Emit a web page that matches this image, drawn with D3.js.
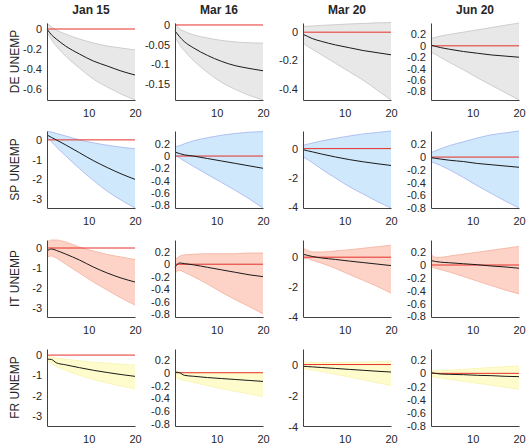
<!DOCTYPE html>
<html>
<head>
<meta charset="utf-8">
<script src="https://cdn.jsdelivr.net/npm/d3@7"></script>
<style>
  body { margin: 0; background: #fff; }
  text { font-family: "Liberation Sans", Arial, sans-serif; fill: #262626; }
</style>
</head>
<body>
<div id="chart"></div>
<script>
var horizons = [1, 2, 3, 5, 8, 11, 14, 17, 20];
var columns = ["Jan 15", "Mar 16", "Mar 20", "Jun 20"];
var rowNames = ["DE UNEMP", "SP UNEMP", "IT UNEMP", "FR UNEMP"];

// one sub-array per column (Jan 15, Mar 16, Mar 20, Jun 20)
var deMedian = [
  [0, -0.06, -0.1, -0.17, -0.25, -0.32, -0.37, -0.42, -0.46],
  [-0.015, -0.03, -0.042, -0.058, -0.077, -0.092, -0.103, -0.11, -0.116],
  [-0.015, -0.03, -0.045, -0.065, -0.09, -0.11, -0.13, -0.145, -0.16],
  [0.01, -0.01, -0.03, -0.06, -0.1, -0.13, -0.16, -0.18, -0.2]
];
var deUpper = [
  [0.06, 0.02, -0.01, -0.05, -0.1, -0.14, -0.17, -0.19, -0.21],
  [0.005, -0.01, -0.016, -0.025, -0.033, -0.039, -0.043, -0.045, -0.046],
  [0.04, 0.042, 0.044, 0.048, 0.053, 0.058, 0.062, 0.066, 0.068],
  [0.13, 0.15, 0.17, 0.2, 0.24, 0.28, 0.32, 0.36, 0.4]
];
var deLower = [
  [-0.03, -0.11, -0.17, -0.27, -0.39, -0.5, -0.58, -0.65, -0.71],
  [-0.03, -0.05, -0.065, -0.09, -0.12, -0.145, -0.163, -0.178, -0.19],
  [-0.077, -0.1, -0.12, -0.16, -0.22, -0.28, -0.34, -0.41, -0.48],
  [-0.11, -0.15, -0.2, -0.29, -0.42, -0.56, -0.69, -0.82, -0.95]
];

var spMedian = [
  [0.25, 0.12, 0, -0.25, -0.65, -1.05, -1.4, -1.72, -2.0],
  [0.065, 0.04, 0.02, 0, -0.04, -0.08, -0.12, -0.16, -0.2],
  [-0.07, -0.15, -0.22, -0.37, -0.57, -0.75, -0.9, -1.03, -1.15],
  [-0.01, -0.02, -0.03, -0.05, -0.07, -0.1, -0.12, -0.14, -0.16]
];
var spUpper = [
  [0.42, 0.4, 0.33, 0.2, 0.0, -0.15, -0.27, -0.37, -0.45],
  [0.15, 0.17, 0.2, 0.25, 0.3, 0.34, 0.37, 0.39, 0.4],
  [0.22, 0.3, 0.38, 0.52, 0.7, 0.86, 1.0, 1.1, 1.2],
  [0.07, 0.1, 0.13, 0.18, 0.24, 0.3, 0.35, 0.38, 0.41]
];
var spLower = [
  [0.15, -0.1, -0.35, -0.8, -1.45, -2.05, -2.6, -3.05, -3.45],
  [0.01, -0.03, -0.08, -0.17, -0.3, -0.43, -0.56, -0.7, -0.85],
  [-0.55, -0.75, -0.95, -1.4, -2.0, -2.6, -3.1, -3.6, -4.05],
  [-0.07, -0.1, -0.13, -0.2, -0.32, -0.45, -0.57, -0.69, -0.8]
];

var itMedian = [
  [-0.15, -0.05, -0.12, -0.3, -0.6, -0.95, -1.25, -1.5, -1.7],
  [-0.05, 0.02, 0.01, -0.01, -0.05, -0.09, -0.13, -0.17, -0.2],
  [0.2, 0.12, 0.05, -0.05, -0.15, -0.26, -0.36, -0.46, -0.56],
  [0.07, 0.055, 0.045, 0.035, 0.02, 0.005, -0.015, -0.03, -0.05]
];
var itUpper = [
  [0.3, 0.4, 0.4, 0.3, 0.05, -0.15, -0.32, -0.45, -0.58],
  [0.07, 0.13, 0.15, 0.16, 0.17, 0.17, 0.17, 0.18, 0.18],
  [0.6, 0.45, 0.35, 0.35, 0.42, 0.5, 0.6, 0.7, 0.8],
  [0.17, 0.12, 0.12, 0.14, 0.17, 0.2, 0.23, 0.26, 0.29]
];
var itLower = [
  [-0.45, -0.4, -0.5, -0.8, -1.25, -1.7, -2.1, -2.5, -2.85],
  [-0.14, -0.1, -0.13, -0.2, -0.32, -0.45, -0.57, -0.68, -0.8],
  [-0.1, -0.1, -0.2, -0.4, -0.75, -1.15, -1.55, -1.95, -2.4],
  [-0.03, -0.05, -0.07, -0.11, -0.18, -0.25, -0.32, -0.39, -0.45]
];

var frMedian = [
  [-0.2, -0.22, -0.38, -0.48, -0.62, -0.75, -0.86, -0.96, -1.05],
  [0.01, 0.0, -0.04, -0.055, -0.075, -0.09, -0.105, -0.12, -0.135],
  [-0.11, -0.13, -0.15, -0.19, -0.25, -0.31, -0.37, -0.43, -0.48],
  [0.01, 0.0, -0.01, -0.015, -0.02, -0.03, -0.035, -0.045, -0.05]
];
var frUpper = [
  [-0.05, -0.1, -0.15, -0.2, -0.28, -0.35, -0.4, -0.45, -0.5],
  [0.03, 0.01, 0.005, 0.005, 0.005, 0.005, 0.005, 0.005, 0.005],
  [0.17, 0.15, 0.14, 0.13, 0.13, 0.15, 0.17, 0.19, 0.21],
  [0.04, 0.04, 0.045, 0.05, 0.06, 0.075, 0.09, 0.1, 0.11]
];
var frLower = [
  [-0.33, -0.4, -0.55, -0.75, -1.0, -1.2, -1.38, -1.53, -1.67],
  [-0.07, -0.1, -0.12, -0.15, -0.2, -0.25, -0.29, -0.33, -0.37],
  [-0.27, -0.3, -0.35, -0.45, -0.62, -0.8, -0.98, -1.17, -1.35],
  [-0.05, -0.06, -0.07, -0.09, -0.12, -0.15, -0.18, -0.21, -0.24]
];

// axis limits and ticks, row by row
var yLimits = [
  [[-0.71, 0.06], [-0.19, 0.005], [-0.48, 0.065], [-0.95, 0.4]],
  [[-3.45, 0.45], [-0.85, 0.41], [-4.05, 1.2], [-0.8, 0.41]],
  [[-3.45, 0.4], [-0.85, 0.39], [-4.0, 1.15], [-0.81, 0.39]],
  [[-3.5, 0.3], [-0.83, 0.37], [-3.95, 1.0], [-0.8, 0.37]]
];
var yTicks = [
  [[0, -0.2, -0.4, -0.6], [0, -0.05, -0.1, -0.15], [0, -0.2, -0.4], [0.2, 0, -0.2, -0.4, -0.6, -0.8]],
  [[0, -1, -2, -3], [0.2, 0, -0.2, -0.4, -0.6, -0.8], [0, -2, -4], [0.2, 0, -0.2, -0.4, -0.6, -0.8]],
  [[0, -1, -2, -3], [0.2, 0, -0.2, -0.4, -0.6, -0.8], [0, -2, -4], [0.2, 0, -0.2, -0.4, -0.6, -0.8]],
  [[0, -1, -2, -3], [0.2, 0, -0.2, -0.4, -0.6, -0.8], [0, -2, -4], [0.2, 0, -0.2, -0.4, -0.6, -0.8]]
];
var xTicks = [10, 20];

var rowData = [
  { med: deMedian, up: deUpper, lo: deLower, fill: "#e8e8e8", edge: "#c4c4c4" },
  { med: spMedian, up: spUpper, lo: spLower, fill: "#cfe8fb", edge: "#a3b3ef" },
  { med: itMedian, up: itUpper, lo: itLower, fill: "#fcd3c6", edge: "#f5ae9c" },
  { med: frMedian, up: frUpper, lo: frLower, fill: "#fefccc", edge: "#f7f2b0" }
];

// layout
var W = 526, H = 444;
var colLeft = [47, 175, 303, 431];
var rowTop = [23, 131, 240, 349];
var plotW = 88, plotH = 77;

var svg = d3.select("#chart").append("svg")
    .attr("width", W)
    .attr("height", H);

var fmt = function(d) { return String(+d.toFixed(2)); };

rowData.forEach(function(row, r) {
    columns.forEach(function(colName, c) {
        var g = svg.append("g")
            .attr("transform", "translate(" + colLeft[c] + "," + rowTop[r] + ")");

        var x = d3.scaleLinear().domain([1, 20]).range([0, plotW]);
        var y = d3.scaleLinear().domain(yLimits[r][c]).range([plotH, 0]);

        var pts = horizons.map(function(h, i) {
            return { h: h, m: row.med[c][i], u: row.up[c][i], l: row.lo[c][i] };
        });

        var area = d3.area()
            .curve(d3.curveMonotoneX)
            .x(function(d) { return x(d.h); })
            .y0(function(d) { return y(d.l); })
            .y1(function(d) { return y(d.u); });

        g.append("path")
            .datum(pts)
            .attr("d", area)
            .attr("fill", row.fill)
            .attr("stroke", "none");

        // band edges
        ["u", "l"].forEach(function(k) {
            g.append("path")
                .datum(pts)
                .attr("d", d3.line().curve(d3.curveMonotoneX)
                    .x(function(d) { return x(d.h); })
                    .y(function(d) { return y(d[k]); }))
                .attr("fill", "none")
                .attr("stroke", row.edge)
                .attr("stroke-width", 0.8);
        });

        // zero line
        g.append("line")
            .attr("x1", x(1)).attr("x2", x(20))
            .attr("y1", y(0)).attr("y2", y(0))
            .attr("stroke", "#e5312b")
            .attr("stroke-width", 1);

        // median response
        g.append("path")
            .datum(pts)
            .attr("d", d3.line().curve(d3.curveMonotoneX)
                .x(function(d) { return x(d.h); })
                .y(function(d) { return y(d.m); }))
            .attr("fill", "none")
            .attr("stroke", "#1a1a1a")
            .attr("stroke-width", 1);

        var yAxis = d3.axisLeft(y).tickValues(yTicks[r][c]).tickFormat(fmt).tickSize(0).tickPadding(5);
        var xAxis = d3.axisBottom(x).tickValues(xTicks).tickSize(0).tickPadding(9);

        var ya = g.append("g").attr("class", "y-axis").call(yAxis);
        var xa = g.append("g").attr("class", "x-axis")
            .attr("transform", "translate(0," + plotH + ")")
            .call(xAxis);

        [ya, xa].forEach(function(a) {
            a.select(".domain").attr("stroke", "#404040").attr("stroke-width", 1);
            a.selectAll("text")
                .style("font-size", "11px")
                .style("font-family", "'Liberation Sans', Arial, sans-serif")
                .attr("fill", "#262626");
        });

        if (r === 0) {
            g.append("text")
                .attr("x", plotW / 2)
                .attr("y", -9)
                .attr("text-anchor", "middle")
                .style("font-size", "12px")
                .style("font-weight", "bold")
                .attr("fill", "#000")
                .text(colName);
        }
        if (c === 0) {
            g.append("text")
                .attr("transform", "translate(-28," + (plotH / 2) + ") rotate(-90)")
                .attr("text-anchor", "middle")
                .style("font-size", "12px")
                .text(rowNames[r]);
        }
    });
});
</script>
</body>
</html>
